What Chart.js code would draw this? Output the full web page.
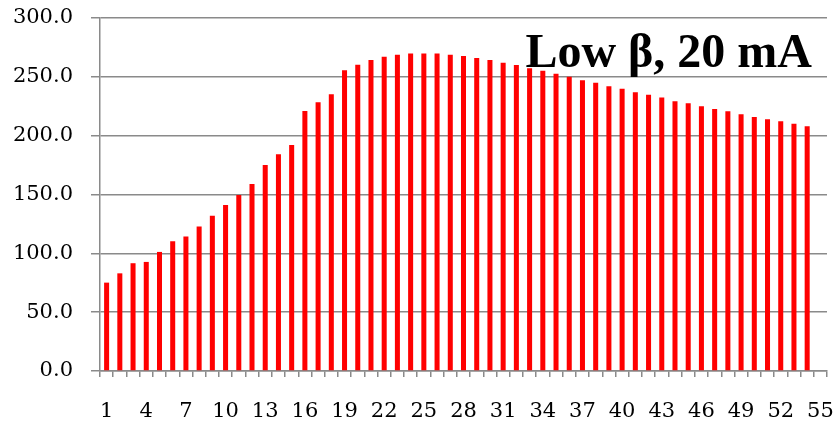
<!DOCTYPE html>
<html>
<head>
<meta charset="utf-8">
<script src="https://cdn.jsdelivr.net/npm/chart.js@4"></script>
<style>
  html, body { margin: 0; padding: 0; background: #fff; }
  #wrap { width: 836px; height: 424px; }
</style>
</head>
<body>
<div id="wrap"><canvas id="chart"></canvas></div>
<script>
const categories = Array.from({ length: 55 }, (_, i) => String(i + 1));
const currentValues = [
  75.1, 83.0, 91.6, 92.7, 101.2, 110.3, 114.3, 122.8, 131.9, 141.0,
  149.5, 158.9, 175.0, 184.2, 192.1, 221.0, 228.4, 235.2, 255.7, 260.2,
  264.2, 267.0, 268.7, 269.9, 269.9, 269.9, 268.7, 267.6, 265.9, 264.2,
  261.9, 260.0, 257.4, 255.1, 252.6, 250.0, 247.2, 244.9, 242.1, 239.8,
  237.0, 234.7, 232.4, 229.3, 227.6, 225.0, 222.7, 220.8, 218.2, 215.9,
  213.9, 212.2, 210.2, 207.9, null,
];
const yTicks = [0, 50, 100, 150, 200, 250, 300];
const chartTitle = "Low \u03b2, 20 mA";

const gridColor = "#8a8a8a";
const tickFont = { family: "'DejaVu Serif', serif", size: 21 };

// title sits inside the plot, top right
const titlePlugin = {
  id: "innerTitle",
  afterDatasetsDraw(chart) {
    const { ctx, chartArea } = chart;
    ctx.save();
    ctx.font = "bold 48px 'Liberation Serif', serif";
    ctx.fillStyle = "#000";
    ctx.textAlign = "right";
    ctx.textBaseline = "alphabetic";
    ctx.fillText(chartTitle, chartArea.right - 15, chartArea.top + 49);
    ctx.restore();
  },
};

new Chart(document.getElementById("chart").getContext("2d"), {
  type: "bar",
  data: {
    labels: categories,
    datasets: [
      {
        data: currentValues,
        backgroundColor: "#ff0000",
        borderWidth: 0,
        barPercentage: 0.38,
        categoryPercentage: 1,
      },
    ],
  },
  options: {
    responsive: true,
    maintainAspectRatio: false,
    animation: false,
    layout: {
      padding: { top: 18, right: 9, bottom: 0, left: 0 },
    },
    plugins: {
      legend: { display: false },
      tooltip: { enabled: false },
    },
    scales: {
      x: {
        grid: {
          offset: true,
          drawOnChartArea: false,
          drawTicks: true,
          tickLength: 6,
          color: gridColor,
          lineWidth: 1.5,
        },
        border: { color: gridColor, width: 1.5 },
        ticks: {
          autoSkip: false,
          maxRotation: 0,
          minRotation: 0,
          padding: 22,
          color: "#000",
          font: tickFont,
          callback: function (v, i) {
            return i % 3 === 0 ? categories[i] : "";
          },
        },
        afterFit(scale) {
          scale.height = 53;
          scale.paddingLeft = 0;
          scale.paddingRight = 0;
        },
      },
      y: {
        min: 0,
        max: 300,
        afterBuildTicks(scale) {
          scale.ticks = yTicks.map((v) => ({ value: v }));
        },
        grid: {
          color: gridColor,
          lineWidth: 1.5,
          drawTicks: true,
          tickLength: 9,
        },
        border: { color: gridColor, width: 1.5 },
        ticks: {
          padding: 18,
          color: "#000",
          font: tickFont,
          callback: (v) => Number(v).toFixed(1),
        },
        afterFit(scale) {
          scale.width = 100;
          scale.paddingTop = 0;
          scale.paddingBottom = 0;
        },
      },
    },
  },
  plugins: [titlePlugin],
});
</script>
</body>
</html>
